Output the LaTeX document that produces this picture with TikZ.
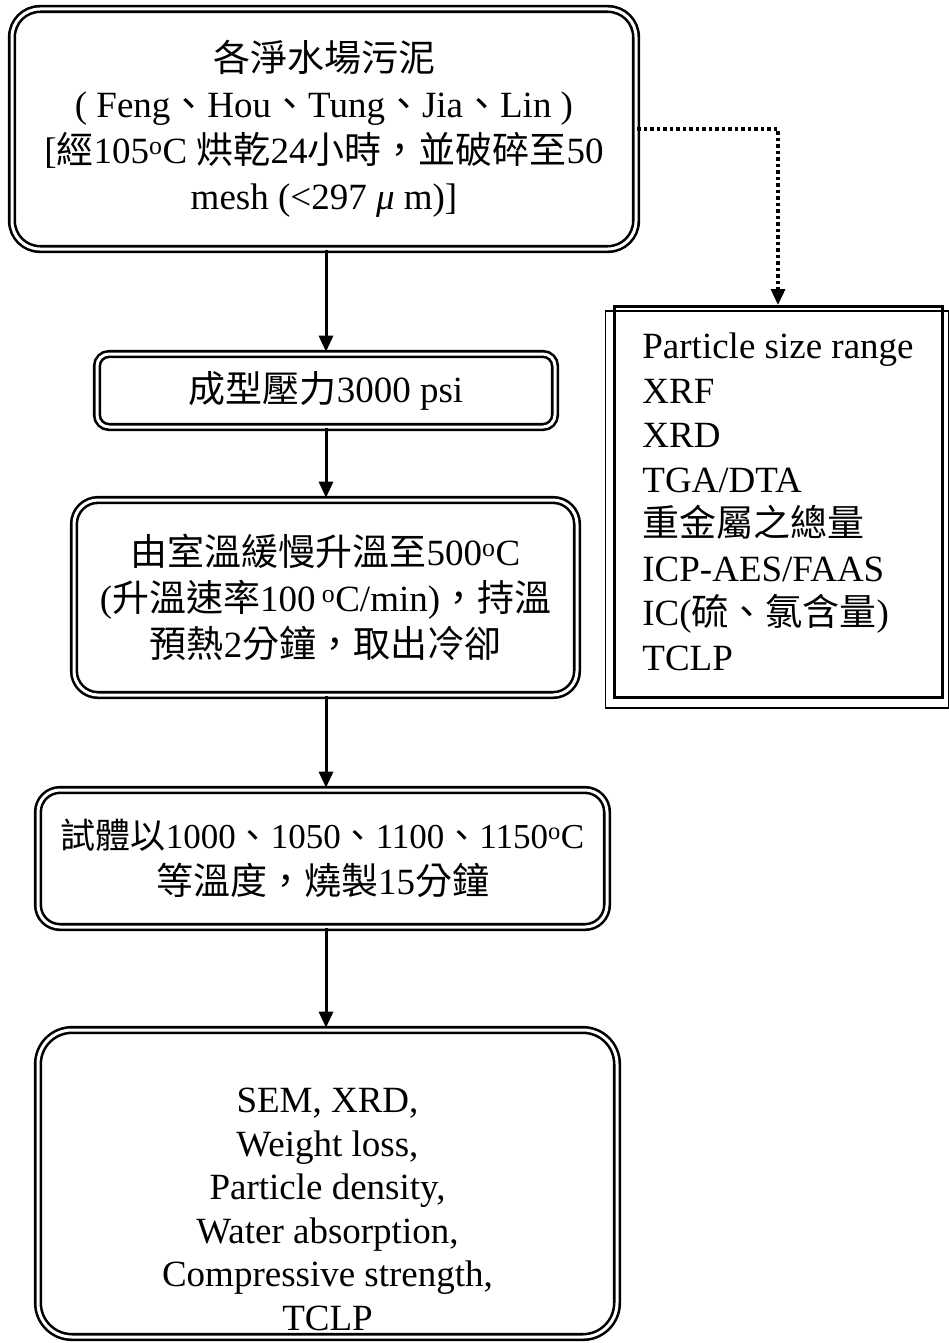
\documentclass[tikz,border=0pt]{standalone}
\usepackage{fontspec}
\setmainfont{Liberation Serif}
\newfontfamily\cjk{Noto Sans CJK TC}
\newcommand\dun{{\cjk 、}}
\usetikzlibrary{arrows.meta,calc}
\tikzset{stage/.style={draw, double, line width=2.6pt, double distance=3pt,
  align=center, inner sep=0pt, font=\fontsize{37}{46}\selectfont},
  flow/.style={-{Triangle[length=16pt,width=14pt]}, line width=3pt},
  dotflow/.style={-{Triangle[length=16pt,width=14pt]}, line width=3.5pt,
  dash pattern=on 3.5pt off 3pt}}

\begin{document}
\begin{tikzpicture}[x=1pt, y=-1pt]
  \useasboundingbox (0,0) rectangle (948,1343);
  % Main process
  \node[stage, minimum width=624pt, minimum height=240pt,
    rounded corners=28pt] (sludge) at (324,129)
    {{\cjk 各淨水場污泥}\\
     ( Feng{\cjk 、}Hou{\cjk 、}Tung{\cjk 、}Jia{\cjk 、}Lin )\\
     {[}{\cjk 經}105\textsuperscript{o}C {\cjk 烘乾}24{\cjk 小時，並破碎至}50\\
     mesh (<297 {\itshape μ} m)]};
  \node[stage, minimum width=458pt, minimum height=73pt,
    rounded corners=12pt] (press) at (326,390.5)
    {{\cjk 成型壓力}3000 psi};
  \node[stage, minimum width=503pt, minimum height=195pt,
    rounded corners=24pt] (heat) at (325.5,597.5)
    {{\cjk 由室溫緩慢升溫至}500\textsuperscript{o}C\\
     ({\cjk 升溫速率}100\,\textsuperscript{o}C/min){\cjk ，持溫}\\
     {\cjk 預熱}2{\cjk 分鐘，取出冷卻}};
  \node[stage, minimum width=569pt, minimum height=137pt,
    rounded corners=22pt] (fire) at (322.5,858.5)
    {{\fontsize{35}{46}\selectfont
      {\cjk 試體以}1000\dun1050\dun1100\dun1150\textsuperscript{o}C}\\
     {\cjk 等溫度，燒製}15{\cjk 分鐘}};
  \node[stage, minimum width=579pt, minimum height=307pt,
    rounded corners=34pt] (result) at (327.5,1183.5) {};
  \node[align=center, font=\fontsize{37}{43.5}\selectfont] (resulttext)
    at ($(result.center)+(0,26)$)
    {SEM, XRD,\\ Weight loss,\\ Particle density,\\ Water absorption,\\
     Compressive strength,\\ TCLP};
  % Raw sludge tests
  \node[draw, line width=3pt, minimum width=328pt, minimum height=391pt,
    align=left, inner sep=0pt, font=\fontsize{37}{44.5}\selectfont]
    (tests) at (778,502)
    {Particle size range\\ XRF\\ XRD\\ TGA/DTA\\ {\cjk 重金屬之總量}\\
     ICP-AES/FAAS\\ IC({\cjk 硫、氯含量})\\ TCLP};
  \draw[line width=1.2pt] ($(tests.north west)+(-7,6)$)
    rectangle ($(tests.south east)+(5,9)$);
  % Arrows
  \draw[flow, shorten >=1pt] (press.north |- sludge.south) -- (press.north);
  \draw[flow, shorten >=1pt] (press.south) -- (press.south |- heat.north);
  \draw[flow, shorten >=1pt] (press.south |- heat.south)
    -- (press.south |- fire.north);
  \draw[flow, shorten >=1pt] (press.south |- fire.south)
    -- (press.south |- result.north);
  \draw[dotflow] (sludge.east) -| (tests.north);
\end{tikzpicture}
\end{document}
